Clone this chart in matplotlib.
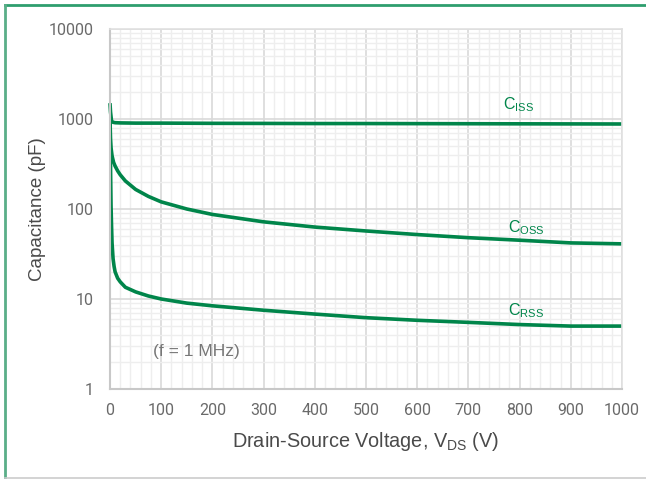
import matplotlib
matplotlib.use("Agg")
import matplotlib.pyplot as plt
from matplotlib.lines import Line2D
from matplotlib.ticker import FixedLocator, NullFormatter
from matplotlib import font_manager

names = {f.name for f in font_manager.fontManager.ttflist}
narrow = 'Liberation Sans Narrow' if 'Liberation Sans Narrow' in names else 'Roboto'

plt.rcParams['font.family'] = ['Liberation Sans', 'DejaVu Sans']
plt.rcParams['mathtext.fontset'] = 'custom'
plt.rcParams['mathtext.rm'] = 'Liberation Sans'

# Data
v_ciss = [0, 1, 3, 6, 10, 20, 50, 100, 200, 300, 400, 500, 600, 700, 800, 900, 1000]
ciss = [1500, 1200, 950, 920, 910, 905, 900, 900, 895, 893, 890, 890, 888, 886, 884, 882, 880]

v_coss = [0, 1, 2, 4, 7, 10, 15, 20, 30, 50, 75, 100, 150, 200, 300, 400, 500, 600, 700, 800, 900, 1000]
coss = [1000, 600, 480, 390, 330, 300, 265, 240, 205, 165, 138, 120, 100, 87, 72, 63, 57, 52, 48, 45, 42, 41]

v_crss = [0, 1, 2, 3, 4, 6, 8, 10, 15, 20, 30, 50, 75, 100, 150, 200, 300, 400, 500, 600, 700, 800, 900, 1000]
crss = [1000, 300, 110, 65, 42, 28, 23, 20, 17, 15.5, 13.5, 12, 10.8, 10, 9, 8.4, 7.5, 6.8, 6.2, 5.8, 5.5, 5.2, 5.0, 5.0]

subs = ["ISS", "OSS", "RSS"]
label_x = [768, 777, 777]
label_y = [1140, 49, 5.8]

green = "#00854A"

fig = plt.figure(figsize=(6.46, 4.79), dpi=100)
ax = fig.add_axes([110/646, 1-389/479, 512/646, 360/479])

ax.set_yscale('log')
ax.set_xlim(0, 1000)
ax.set_ylim(1, 10000)

ax.xaxis.set_major_locator(FixedLocator(range(0, 1001, 100)))
ax.xaxis.set_minor_locator(FixedLocator([x for x in range(0, 1001, 20) if x % 100]))
ax.yaxis.set_major_locator(FixedLocator([1, 10, 100, 1000, 10000]))
ax.yaxis.set_minor_locator(FixedLocator([m * 10**e for e in range(0, 4) for m in range(2, 10)]))
ax.yaxis.set_minor_formatter(NullFormatter())
ax.set_yticklabels(["1", "10", "100", "1000", "10000"])

ax.grid(which='major', color='#d9d9d9', linewidth=1.2)
ax.grid(which='minor', color='#eeeeee', linewidth=1.0)
ax.set_axisbelow(True)

for s in ['top', 'right']:
    ax.spines[s].set_color('#e0e0e0')
    ax.spines[s].set_linewidth(1.2)
for s in ['left', 'bottom']:
    ax.spines[s].set_color('#c8c8c8')
    ax.spines[s].set_linewidth(1.5)

ax.tick_params(which='both', length=0)
ax.tick_params(axis='both', labelsize=11.5, labelcolor='#6a6a6a')
ax.tick_params(axis='x', pad=10)
ax.tick_params(axis='y', pad=12)
for lab in ax.get_xticklabels() + ax.get_yticklabels():
    lab.set_family([narrow, 'DejaVu Sans'])

ax.plot(v_ciss, ciss, color=green, lw=2.6, solid_capstyle='butt', clip_on=False)
ax.plot(v_coss, coss, color=green, lw=2.6, solid_capstyle='butt')
ax.plot(v_crss, crss, color=green, lw=2.6, solid_capstyle='butt')

for s, x, y in zip(subs, label_x, label_y):
    ax.text(x, y, "C$_{\\mathregular{" + s + "}}$", color=green, fontsize=11.5,
            ha='left', va='bottom')

ax.text(84, 2.64, "(f = 1 MHz)", color='#777777', fontsize=12.5, ha='left', va='center')

ax.set_xlabel(r"Drain-Source Voltage, V$_{\mathregular{DS}}$ (V)", fontsize=14.3, color='#4a4a4a', labelpad=9)
ax.set_ylabel("Capacitance (pF)", fontsize=13.5, color='#4a4a4a')
ax.yaxis.set_label_coords((46 - 110) / 512, 0.5)

# frame lines
fig.add_artist(Line2D([4.5/646, 1.0], [1-4.5/479, 1-4.5/479], color='#2e9e6e', lw=2, transform=fig.transFigure))
fig.add_artist(Line2D([4.5/646, 4.5/646], [1-4.5/479, 1-477.5/479], color='#5aae88', lw=2, transform=fig.transFigure))
fig.add_artist(Line2D([4.5/646, 1.0], [1-477.5/479, 1-477.5/479], color='#cccccc', lw=1.2, transform=fig.transFigure))

fig.savefig("out.png", dpi=100)
